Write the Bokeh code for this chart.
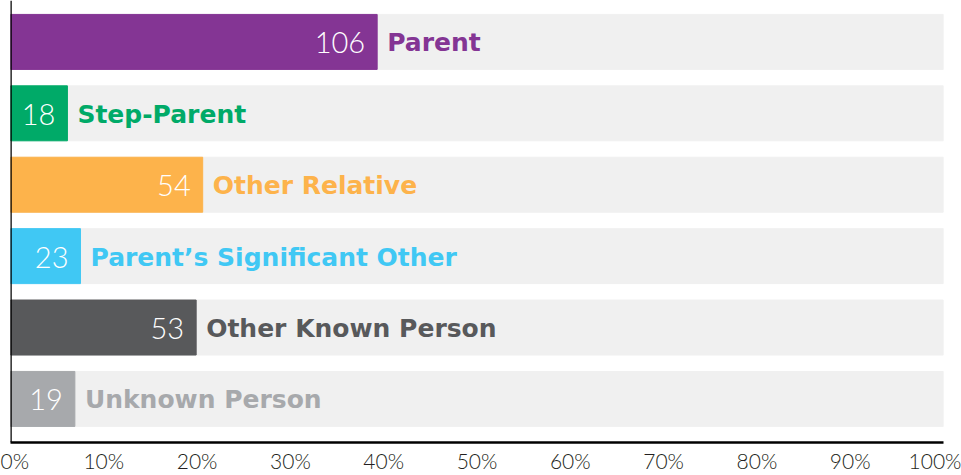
from bokeh.plotting import figure
from bokeh.models import ColumnDataSource, Range1d, FixedTicker, PrintfTickFormatter, Span
from bokeh.embed import file_html
from bokeh.resources import INLINE
from bokeh.core.properties import value

categories = ["Parent", "Step-Parent", "Other Relative", "Parent\u2019s Significant Other",
              "Other Known Person", "Unknown Person"]
counts = [106, 18, 54, 23, 53, 19]
percents = [39.3, 6.1, 20.6, 7.5, 19.9, 6.9]
colors = ["#843594", "#00AA68", "#FDB34B", "#40C8F4", "#58595B", "#A7A9AC"]
tick_values = [0, 10, 20, 30, 40, 50, 60, 70, 80, 90, 100]
full_scale = [100] * len(categories)

ypos = list(range(len(categories)))
src = ColumnDataSource(dict(
    y=ypos, cat=categories, cnt=[str(c) for c in counts], pct=percents,
    color=colors, full=full_scale,
))

p = figure(width=961, height=475, output_backend="svg", toolbar_location=None,
           x_range=Range1d(0, 100), y_range=Range1d(5.61, -0.58),
           min_border_left=10, min_border_right=18, min_border_top=0, min_border_bottom=33)
p.outline_line_color = None
p.xgrid.visible = False
p.ygrid.visible = False
p.yaxis.visible = False
p.background_fill_color = "white"
p.border_fill_color = "white"

bar_h = 0.77
p.hbar(y="y", left=0, right="full", height=bar_h, color="#F0F0F0", source=src)
p.hbar(y="y", left=0, right="pct", height=bar_h, color="color", source=src)

p.text(x="pct", y="y", text="cnt", source=src, text_color="white",
       text_align="right", text_baseline="middle", x_offset=-12, y_offset=1,
       text_font=value("'Lato Light', Lato"), text_font_size="29px")
p.text(x="pct", y="y", text="cat", source=src, text_color="color",
       text_align="left", text_baseline="middle", x_offset=10, y_offset=1,
       text_font=value("DejaVu Sans"), text_font_style="bold", text_font_size="25px")

p.add_layout(Span(location=0, dimension="height", line_color="black", line_width=2.5,
                  level="overlay"))

ax = p.xaxis[0]
ax.ticker = FixedTicker(ticks=tick_values)
ax.formatter = PrintfTickFormatter(format="%d%%")
ax.axis_line_color = "black"
ax.axis_line_width = 2.5
ax.major_tick_line_color = None
ax.minor_tick_line_color = None
ax.major_tick_out = 0
ax.major_tick_in = 0
ax.minor_tick_out = 0
ax.minor_tick_in = 0
ax.major_label_text_font = "'Lato Light', Lato"
ax.major_label_text_font_size = "21px"
ax.major_label_text_color = "#231F20"
ax.major_label_text_line_height = 0.6
ax.major_label_standoff = 5

open("out.html", "w").write(file_html(p, INLINE))
